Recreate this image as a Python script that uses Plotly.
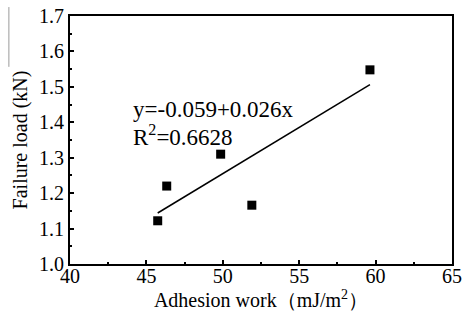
import numpy as np
import plotly.graph_objects as go

# Data
adhesion_work = [45.74, 46.33, 49.86, 51.90, 59.63]
failure_load = [1.122, 1.220, 1.310, 1.166, 1.548]

x_ticks = [40, 45, 50, 55, 60, 65]
y_ticks = [1.0, 1.1, 1.2, 1.3, 1.4, 1.5, 1.6, 1.7]

eq_text = "y=-0.059+0.026x"
r2_text = "R<sup>2</sup>=0.6628"

# Linear fit through the data
slope, intercept = np.polyfit(adhesion_work, failure_load, 1)
fit_x = [min(adhesion_work), max(adhesion_work)]
fit_y = [intercept + slope * v for v in fit_x]

FONT = "Liberation Serif, Times New Roman, serif"

fig = go.Figure()
fig.add_trace(go.Scatter(
    x=fit_x, y=fit_y, mode="lines",
    line=dict(color="black", width=1.5), showlegend=False, hoverinfo="skip"))
fig.add_trace(go.Scatter(
    x=adhesion_work, y=failure_load, mode="markers",
    marker=dict(symbol="square", size=9, color="black"), showlegend=False))

fig.add_annotation(x=44.0, y=1.435, xref="x", yref="y", text=eq_text,
                   showarrow=False, xanchor="left", yanchor="middle",
                   font=dict(family=FONT, size=23, color="black"))
fig.add_annotation(x=44.0, y=1.362, xref="x", yref="y", text=r2_text,
                   showarrow=False, xanchor="left", yanchor="middle",
                   font=dict(family=FONT, size=23, color="black"))

# faint scan artifact line at top-left
fig.add_shape(type="line", xref="paper", yref="paper",
              x0=-0.16, x1=-0.16, y0=1.036, y1=0.795,
              line=dict(color="#9a9a9a", width=1))

axis_common = dict(
    showline=True, linewidth=2, linecolor="black", mirror=True,
    ticks="inside", ticklen=4, tickwidth=2, tickcolor="black",
    showgrid=False, zeroline=False, automargin=False,
    ticklabeloverflow="allow",
    tickfont=dict(family=FONT, size=20, color="black"),
)

fig.update_xaxes(
    range=[40, 65], tickvals=x_ticks, ticklabelstandoff=-7,
    minor=dict(ticks="inside", ticklen=2, tickwidth=2, tickcolor="black", dtick=2.5, tick0=40),
    title=dict(text="Adhesion work（mJ/m<sup>2</sup>）", standoff=1,
               font=dict(family=FONT, size=20, color="black")),
    **axis_common)
fig.update_yaxes(
    range=[1.0, 1.7], tickvals=y_ticks, tickformat=".1f",
    minor=dict(ticks="inside", ticklen=2, tickwidth=2, tickcolor="black", dtick=0.05, tick0=1.0),
    title=dict(text="Failure load (kN)", standoff=6,
               font=dict(family=FONT, size=20, color="black")),
    **axis_common)

fig.update_layout(
    width=462, height=321,
    margin=dict(l=70, r=10, t=16, b=57),
    plot_bgcolor="white", paper_bgcolor="white",
    font=dict(family=FONT, color="black"),
)

# remove the page's default body margin so the figure fills the window
fig.write_html("out.html", config={"displayModeBar": False},
               post_script="document.body.style.margin='0';")
